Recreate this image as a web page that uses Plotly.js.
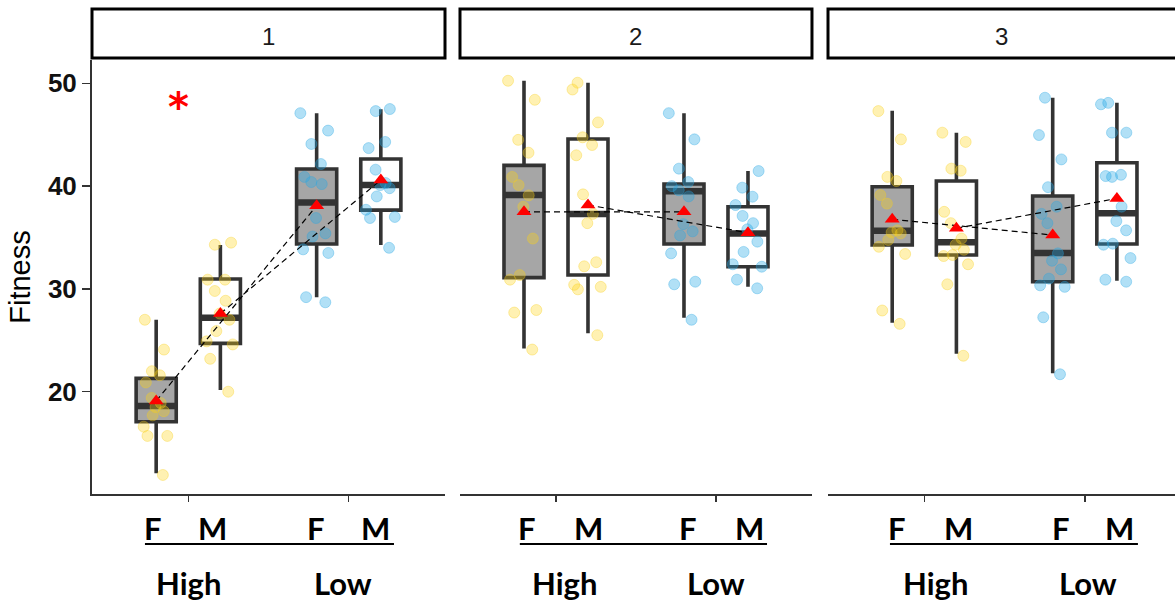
<!DOCTYPE html>
<html>
<head>
<meta charset="utf-8">
<script src="https://cdn.plot.ly/plotly-3.0.1.min.js"></script>
<style>html,body{margin:0;padding:0;background:#fff;}#chart{width:1175px;height:605px;}</style>
</head>
<body>
<div id="chart"></div>
<script>
// ---------------- DATA ----------------
const panelNames = ['1', '2', '3'];
const levels = ['High', 'Low'];
const sexes = ['F', 'M'];
// group order inside every panel: F-High, M-High, F-Low, M-Low
const groupSex   = ['F', 'M', 'F', 'M'];
const groupLevel = ['High', 'High', 'Low', 'Low'];

// raw observations (jittered points)
const p1_F_High = [27.0, 24.1, 22.0, 21.6, 20.9, 19.4, 18.9, 18.5, 18.1, 17.7, 16.6, 15.7, 15.7, 11.9];
const p1_M_High = [34.5, 34.3, 30.9, 30.9, 29.8, 28.85, 27.6, 27.0, 25.9, 24.9, 24.6, 23.2, 20.0];
const p1_F_Low  = [47.1, 45.4, 44.1, 42.15, 40.9, 40.4, 40.2, 36.9, 35.4, 35.1, 33.85, 33.5, 29.2, 28.7];
const p1_M_Low  = [47.5, 47.3, 44.3, 43.7, 41.6, 40.3, 40.1, 39.8, 39.0, 37.7, 37.0, 36.9, 34.0];

const p2_F_High = [50.25, 48.4, 44.5, 43.25, 40.9, 40.1, 39.1, 38.0, 34.9, 31.35, 30.9, 27.95, 27.7, 24.1];
const p2_M_High = [50.06, 49.4, 46.2, 44.75, 44.0, 43.0, 39.2, 37.3, 36.4, 32.6, 32.2, 30.4, 30.2, 29.96, 25.5];
const p2_F_Low  = [47.1, 44.55, 41.7, 40.4, 40.0, 39.6, 39.0, 36.3, 35.6, 35.2, 33.46, 30.7, 30.45, 27.0];
const p2_M_Low  = [41.47, 39.85, 38.97, 38.16, 37.1, 36.4, 35.8, 34.6, 33.6, 32.4, 32.16, 30.9, 30.06];

const p3_F_High = [47.3, 44.55, 40.9, 40.5, 39.13, 38.3, 35.7, 35.5, 35.4, 34.76, 34.1, 33.4, 27.9, 26.6];
const p3_M_High = [45.2, 44.3, 41.7, 41.5, 37.5, 36.4, 34.9, 34.3, 33.8, 33.3, 33.2, 32.4, 30.45, 23.5];
const p3_F_Low  = [48.6, 44.97, 42.6, 39.9, 38.0, 37.3, 36.4, 33.46, 32.74, 31.9, 31.0, 30.35, 30.2, 27.24, 21.7];
const p3_M_Low  = [48.1, 47.96, 45.2, 45.2, 41.1, 40.98, 40.9, 38.0, 36.6, 35.7, 34.4, 34.3, 33.0, 30.9, 30.7];

// box statistics per panel, order F-High, M-High, F-Low, M-Low
const p1_q1     = [17.08, 24.7, 34.37, 37.67];
const p1_median = [18.6, 27.2, 38.4, 40.1];
const p1_q3     = [21.3, 30.96, 41.66, 42.64];
const p1_lower  = [12.06, 20.17, 29.2, 34.27];
const p1_upper  = [27.0, 34.27, 47.1, 47.47];
const p1_mean   = [19.1, 27.6, 38.1, 40.6];

const p2_q1     = [31.1, 31.35, 34.37, 32.16];
const p2_median = [39.13, 37.3, 39.5, 35.4];
const p2_q3     = [42.02, 44.58, 40.2, 38.0];
const p2_lower  = [24.2, 25.68, 27.2, 30.2];
const p2_upper  = [50.25, 50.06, 47.08, 41.47];
const p2_mean   = [37.5, 38.16, 37.5, 35.47];

const p3_q1     = [34.27, 33.3, 30.7, 34.37];
const p3_median = [35.66, 34.55, 33.5, 37.35];
const p3_q3     = [39.94, 40.5, 39.04, 42.28];
const p3_lower  = [26.7, 23.7, 21.8, 30.8];
const p3_upper  = [47.34, 45.2, 48.6, 48.1];
const p3_mean   = [36.77, 35.9, 35.24, 38.8];

const yTicks = [20, 30, 40, 50];
const yTitle = 'Fitness';
const signifMark = '*';

// ---------------- ASSEMBLY ----------------
const panelPoints = [
  [p1_F_High, p1_M_High, p1_F_Low, p1_M_Low],
  [p2_F_High, p2_M_High, p2_F_Low, p2_M_Low],
  [p3_F_High, p3_M_High, p3_F_Low, p3_M_Low]
];
const panelStats = [
  {q1: p1_q1, median: p1_median, q3: p1_q3, lower: p1_lower, upper: p1_upper, mean: p1_mean},
  {q1: p2_q1, median: p2_median, q3: p2_q3, lower: p2_lower, upper: p2_upper, mean: p2_mean},
  {q1: p3_q1, median: p3_median, q3: p3_q3, lower: p3_lower, upper: p3_upper, mean: p3_mean}
];

// style / layout constants
const dodge = 0.2, boxW = 0.25;
const fillBySex = {F: '#a6a6a6', M: '#ffffff'};
const ptColor = {High: 'rgba(255,212,20,0.33)', Low: 'rgba(40,170,230,0.36)'};
const ptLine = {High: 'rgba(245,205,30,0.35)', Low: 'rgba(40,165,225,0.35)'};
const edge = '#333333';
const axNames = ['x', 'x2', 'x3'];

function posOf(sex, level) {
  return levels.indexOf(level) + 1 + (sex === 'F' ? -dodge : dodge);
}

const boxTraces = [], medTraces = [], ptTraces = [], lineTraces = [], meanTraces = [];
panelNames.forEach((pn, i) => {
  const xa = axNames[i];
  const st = panelStats[i];
  const mx = [], my = [];
  groupSex.forEach((sex, j) => {
    const level = groupLevel[j];
    const pos = posOf(sex, level);
    boxTraces.push({
      type: 'box', x: [pos], q1: [st.q1[j]], median: [st.median[j]], q3: [st.q3[j]],
      lowerfence: [st.lower[j]], upperfence: [st.upper[j]],
      width: boxW, whiskerwidth: 0, boxpoints: false,
      fillcolor: fillBySex[sex], line: {color: edge, width: 3.6},
      xaxis: xa, yaxis: 'y', hoverinfo: 'skip', showlegend: false
    });
    medTraces.push({
      type: 'box', x: [pos], q1: [st.median[j]], median: [st.median[j]], q3: [st.median[j]],
      lowerfence: [st.median[j]], upperfence: [st.median[j]],
      width: boxW, whiskerwidth: 0, boxpoints: false,
      fillcolor: 'rgba(0,0,0,0)', line: {color: edge, width: 6.5},
      xaxis: xa, yaxis: 'y', hoverinfo: 'skip', showlegend: false
    });
    ptTraces.push({
      type: 'box', x0: pos, y: panelPoints[i][j], name: pn + sex + level,
      width: boxW, boxpoints: 'all', jitter: 0.9, pointpos: 0,
      fillcolor: 'rgba(0,0,0,0)', line: {color: 'rgba(0,0,0,0)', width: 0},
      marker: {color: ptColor[level], size: 11, line: {color: ptLine[level], width: 1}},
      xaxis: xa, yaxis: 'y', showlegend: false, hoveron: 'points'
    });
    mx.push(pos); my.push(st.mean[j]);
  });
  sexes.forEach(sex => {
    const idx = groupSex.map((s, k) => s === sex ? k : -1).filter(k => k >= 0);
    lineTraces.push({
      type: 'scatter', mode: 'lines', x: idx.map(k => mx[k]), y: idx.map(k => my[k]),
      line: {color: '#000', width: 1.2, dash: '6px,4px'},
      xaxis: xa, yaxis: 'y', hoverinfo: 'skip', showlegend: false
    });
  });
  meanTraces.push({
    type: 'scatter', mode: 'markers', x: mx, y: my,
    marker: {symbol: 'triangle-up', color: '#ff0000', size: 13, line: {width: 0}},
    xaxis: xa, yaxis: 'y', showlegend: false
  });
});

const traces = [].concat(boxTraces, medTraces, ptTraces, lineTraces, meanTraces);

// ---------------- LAYOUT ----------------
const plotTop = 60, plotBottom = 494, plotH = plotBottom - plotTop;
const pyToPaper = py => (plotBottom - py) / plotH;
const domains = [[0, 0.32595], [0.33979, 0.6648], [0.6796, 1]];
const xRanges = [[0.4, 2.6], [0.4, 2.6], [0.4, 2.562]];
const fmX = [[0.780, 1.154, 1.796, 2.169], [0.8206, 1.2037, 1.827, 2.207], [0.830, 1.216, 1.852, 2.219]];
const lvlX = [[1.001, 1.964], [1.054, 2.001], [1.067, 2.02]];
const ulX = [[0.730, 2.282], [0.774, 2.319], [0.786, 2.331]];
const labFont = {family: 'Lato, "Open Sans", sans-serif', size: 31, color: '#000', weight: 'bold'};

const layout = {
  width: 1175, height: 605,
  margin: {l: 92, r: 0, t: plotTop, b: 605 - plotBottom, pad: 0},
  paper_bgcolor: '#fff', plot_bgcolor: '#fff',
  boxmode: 'overlay', showlegend: false, hovermode: false,
  yaxis: {
    range: [10.05, 52.27], domain: [0, 1], anchor: 'x',
    tickvals: yTicks, ticks: 'outside', ticklen: 8, tickwidth: 1.5, tickcolor: edge,
    showline: true, linecolor: edge, linewidth: 2, showgrid: false, zeroline: false,
    tickfont: {family: '"Liberation Sans", Arial, sans-serif', size: 26, color: '#111', weight: 'bold'},
    title: {text: yTitle, standoff: 9, font: {family: '"Liberation Sans", Arial, sans-serif', size: 29, color: '#000'}}
  },
  shapes: [], annotations: []
};
panelNames.forEach((pn, i) => {
  const key = i === 0 ? 'xaxis' : 'xaxis' + (i + 1);
  layout[key] = {
    domain: domains[i], range: xRanges[i], anchor: 'y',
    tickvals: [1, 2], ticktext: levels, showticklabels: false,
    ticks: 'outside', ticklen: 6, tickwidth: 1.5, tickcolor: edge,
    showline: true, linecolor: edge, linewidth: 2, showgrid: false, zeroline: false
  };
  const ax = axNames[i];
  // strip
  layout.shapes.push({
    type: 'rect', xref: ax + ' domain', yref: 'paper',
    x0: 0, x1: i === 2 ? 1.05 : 1, y0: pyToPaper(58), y1: pyToPaper(9),
    line: {color: '#000', width: 3}, fillcolor: '#fff', layer: 'above'
  });
  layout.annotations.push({
    xref: ax + ' domain', yref: 'paper', x: 0.5, y: pyToPaper(36), text: pn,
    showarrow: false, xanchor: 'center', yanchor: 'middle',
    font: {family: '"Liberation Sans", Arial, sans-serif', size: 24, color: '#1a1a1a'}
  });
  // sex labels
  groupSex.forEach((sex, j) => {
    layout.annotations.push({
      xref: ax, yref: 'paper', x: fmX[i][j], y: pyToPaper(528), text: sex,
      showarrow: false, xanchor: 'center', yanchor: 'middle', font: labFont
    });
  });
  layout.shapes.push({
    type: 'line', xref: ax, yref: 'paper', x0: ulX[i][0], x1: ulX[i][1],
    y0: pyToPaper(544), y1: pyToPaper(544), line: {color: '#000', width: 2}
  });
  levels.forEach((lv, k) => {
    layout.annotations.push({
      xref: ax, yref: 'paper', x: lvlX[i][k], y: pyToPaper(583), text: lv,
      showarrow: false, xanchor: 'center', yanchor: 'middle', font: labFont
    });
  });
});
// significance mark in panel 1
layout.annotations.push({
  xref: 'x', yref: 'y', x: 0.94, y: 48.42, text: signifMark, showarrow: false,
  xanchor: 'center', yanchor: 'middle', yshift: -7,
  font: {family: '"DejaVu Sans", sans-serif', size: 40, color: '#ff0000', weight: 'bold'}
});

Plotly.newPlot('chart', traces, layout, {displayModeBar: false, staticPlot: true});
</script>
</body>
</html>
